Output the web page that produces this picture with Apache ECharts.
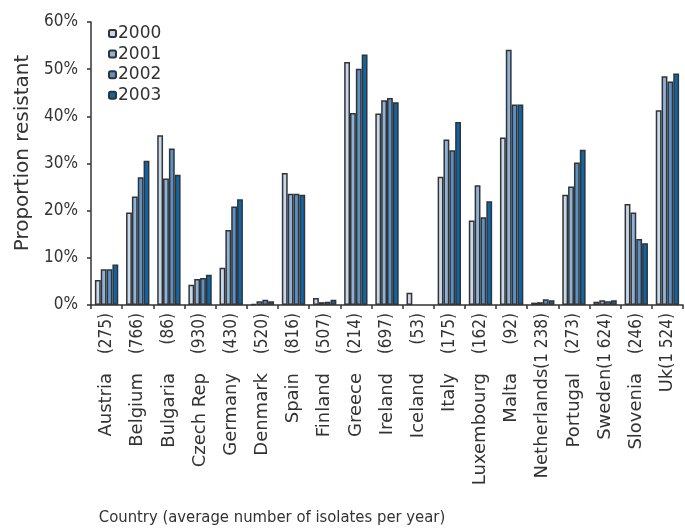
<!DOCTYPE html>
<html>
<head>
<meta charset="utf-8">
<script src="https://cdn.jsdelivr.net/npm/echarts@6/dist/echarts.min.js"></script>
<style>
  html, body { margin: 0; padding: 0; background: #fff; }
  #chart { width: 685px; height: 530px; }
</style>
</head>
<body>
<div id="chart"></div>
<script>
var countries = ['Austria', 'Belgium', 'Bulgaria', 'Czech Rep', 'Germany', 'Denmark', 'Spain', 'Finland', 'Greece',
  'Ireland', 'Iceland', 'Italy', 'Luxembourg', 'Malta', 'Netherlands', 'Portugal', 'Sweden', 'Slovenia', 'Uk']
var isolates = ['(275)', '(766)', '(86)', '(930)', '(430)', '(520)', '(816)', '(507)', '(214)',
  '(697)', '(53)', '(175)', '(162)', '(92)', '(1 238)', '(273)', '(1 624)', '(246)', '(1 524)']
var years = ['2000', '2001', '2002', '2003']

// proportion resistant, %
var y2000 = [5.3, 19.6, 36.0, 4.3, 7.9, 0.2, 28.0, 1.5, 51.5, 40.6, 2.6, 27.2, 17.9, 35.5, 0.5, 23.4, 0.7, 21.4, 41.3]
var y2001 = [7.6, 23.0, 26.8, 5.5, 15.9, 0.8, 23.6, 0.6, 40.7, 43.4, null, 35.1, 25.4, 54.1, 0.6, 25.1, 1.0, 19.6, 48.5]
var y2002 = [7.6, 27.1, 33.2, 5.7, 20.9, 1.1, 23.6, 0.7, 50.1, 43.9, null, 32.8, 18.6, 42.5, 1.2, 30.2, 0.8, 14.0, 47.4]
var y2003 = [8.6, 30.6, 27.6, 6.4, 22.4, 0.8, 23.4, 1.1, 53.1, 43.0, null, 38.8, 22.0, 42.5, 1.0, 32.9, 1.0, 13.1, 49.1]

var colors = ['#c6d9ed', '#8cb3db', '#5792c8', '#0b67ab']
var narrow = "'DejaVu Sans Condensed', 'DejaVu Sans', sans-serif"
var wide = "'DejaVu Sans', sans-serif"
var ink = '#333'

// countries whose name runs straight into the count
var joined = ['Netherlands', 'Sweden', 'Uk']
var labels = countries.map(function (c, i) {
  if (joined.indexOf(c) >= 0) return '{c|' + c + '}{j|' + isolates[i] + '}'
  return '{c|' + c + '}{n|' + isolates[i] + '}'
})

var myChart = echarts.init(document.getElementById('chart'), null, { renderer: 'canvas' })

var series = [y2000, y2001, y2002, y2003].map(function (d, i) {
  return {
    name: years[i],
    type: 'bar',
    data: d,
    barGap: 0,
    barCategoryGap: '25%',
    itemStyle: {
      color: colors[i],
      borderColor: '#333',
      borderWidth: 1.5
    }
  }
})

var option = {
  backgroundColor: '#fff',
  animation: false,
  textStyle: { fontFamily: narrow, color: ink },
  grid: { left: 91, right: 2, top: 22, bottom: 225 },
  legend: {
    data: years,
    orient: 'vertical',
    left: 103,
    top: 20,
    itemWidth: 7,
    itemHeight: 7,
    itemGap: 3.6,
    textStyle: { fontSize: 17, color: ink, fontFamily: wide, padding: [0, 0, 0, -3] }
  },
  xAxis: {
    type: 'category',
    data: labels,
    axisLine: { lineStyle: { color: ink, width: 1.5 } },
    axisTick: { show: true, length: 4, lineStyle: { color: ink, width: 1.5 } },
    axisLabel: {
      rotate: 90,
      interval: 0,
      margin: 8,
      fontSize: 17,
      color: ink,
      rich: {
        c: { fontSize: 18, fontFamily: wide, color: ink },
        n: { fontSize: 17, fontFamily: narrow, color: ink, width: 60, align: 'right' },
        j: { fontSize: 17, fontFamily: narrow, color: ink }
      }
    }
  },
  yAxis: {
    type: 'value',
    min: 0,
    max: 60,
    interval: 10,
    splitLine: { show: false },
    axisLine: { show: true, lineStyle: { color: ink, width: 1.5 } },
    axisTick: { show: true, length: 4, lineStyle: { color: ink, width: 1.5 } },
    axisLabel: { formatter: '{value}%', fontSize: 17, margin: 13, color: ink }
  },
  graphic: [
    {
      type: 'text',
      x: 23,
      y: 153,
      rotation: Math.PI / 2,
      style: {
        text: 'Proportion resistant',
        fontSize: 20,
        fontFamily: wide,
        fill: ink,
        align: 'center',
        verticalAlign: 'middle'
      }
    },
    {
      type: 'text',
      x: 272,
      y: 518,
      style: {
        text: 'Country (average number of isolates per year)',
        fontSize: 16.5,
        fontFamily: narrow,
        fill: ink,
        align: 'center',
        verticalAlign: 'middle'
      }
    }
  ],
  series: series
}

myChart.setOption(option)
</script>
</body>
</html>
